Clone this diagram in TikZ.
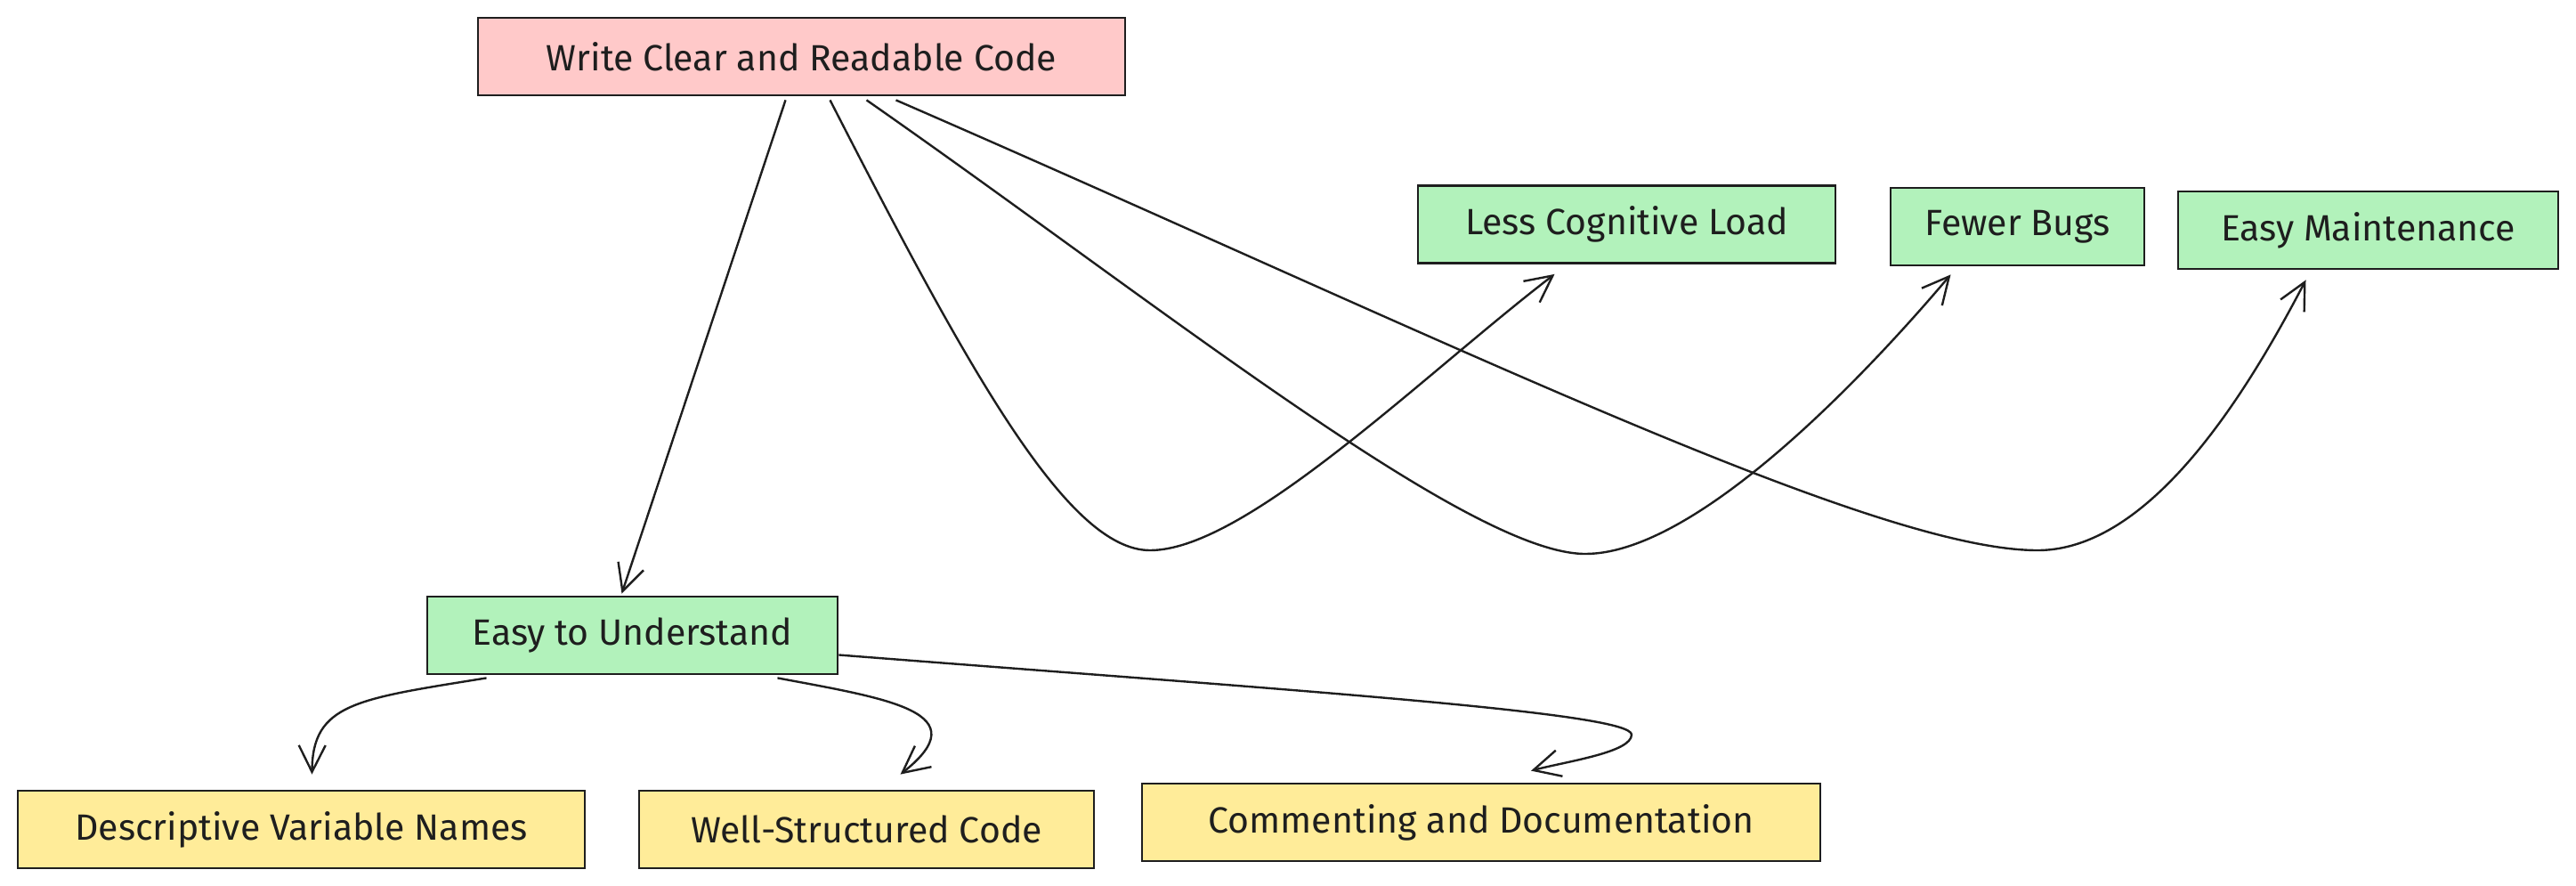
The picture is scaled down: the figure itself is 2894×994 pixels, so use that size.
\documentclass[tikz,border=0pt]{standalone}
\usepackage{fontspec}
\setmainfont{Fira Sans}
\usetikzlibrary{arrows.meta}
\definecolor{pinkfill}{HTML}{FFC9C9}
\definecolor{greenfill}{HTML}{B2F2BB}
\definecolor{yellowfill}{HTML}{FFEC99}
\definecolor{ink}{HTML}{1E1E1E}
\tikzset{
  box/.style={draw=ink, line width=2.8pt, rectangle, inner sep=0pt,
    minimum height=87pt, text=ink, font=\fontsize{41}{45}\selectfont},
  pinkbox/.style={box, fill=pinkfill},
  greenbox/.style={box, fill=greenfill},
  yellowbox/.style={box, fill=yellowfill},
  conn/.style={draw=ink, line width=2.4pt,
    -{Straight Barb[length=30pt,width=30pt,line width=2.4pt]}},
}
\begin{document}
\begin{tikzpicture}[x=1pt,y=1pt]
\useasboundingbox (0,0) rectangle (2894,-994);
% nodes
\node[pinkbox, minimum width=727pt] (w) at (900.5,-63.5) {Write Clear and Readable Code};
\node[greenbox, minimum width=469pt] (lcl) at (1827.5,-252) {Less Cognitive Load};
\node[greenbox, minimum width=285pt] (fb) at (2266.5,-254.5) {Fewer Bugs};
\node[greenbox, minimum width=427pt] (em) at (2660.5,-258.5) {Easy Maintenance};
\node[greenbox, minimum width=461pt] (etu) at (710.5,-713.5) {Easy to Understand};
\node[yellowbox, minimum width=637pt] (dvn) at (338.5,-931.5) {Descriptive Variable Names};
\node[yellowbox, minimum width=511pt] (wsc) at (973.5,-931.5) {Well-Structured Code};
\node[yellowbox, minimum width=762pt] (cd) at (1664,-923.5) {Commenting and Documentation};
% connector anchor points
\coordinate (s1) at ([xshift=-18pt,yshift=-4pt]w.south);
\coordinate (e1) at ([xshift=-12pt,yshift=2pt]etu.north);
\coordinate (s2) at ([xshift=32pt,yshift=-4pt]w.south);
\coordinate (m2) at (1292,-618);
\coordinate (e2) at ([xshift=-81pt,yshift=-11pt]lcl.south);
\coordinate (s3) at ([xshift=73pt,yshift=-4pt]w.south);
\coordinate (m3) at (1781,-622);
\coordinate (e3) at ([xshift=-75pt,yshift=-9pt]fb.south);
\coordinate (s4) at ([xshift=106pt,yshift=-4pt]w.south);
\coordinate (m4) at (2289,-618);
\coordinate (e4) at ([xshift=-70pt,yshift=-11pt]em.south);
\coordinate (s5) at ([xshift=-164pt,yshift=-3pt]etu.south);
\coordinate (e5) at ([xshift=12pt,yshift=17pt]dvn.north);
\coordinate (s6) at ([xshift=163pt,yshift=-3pt]etu.south);
\coordinate (e6) at ([xshift=38pt,yshift=17pt]wsc.north);
\coordinate (s7) at ([yshift=-22pt]etu.east);
\coordinate (r7) at (1833,-825);
\coordinate (e7) at ([xshift=56pt,yshift=13pt]cd.north);
% connectors
\draw[conn] (s1) -- (e1);
\draw[conn] (s2) .. controls (1090,-420) and (1200,-618) .. (m2)
  .. controls (1400,-618) and (1600,-420) .. (e2);
\draw[conn] (s3) .. controls (1300,-340) and (1650,-622) .. (m3)
  .. controls (1900,-622) and (2080,-440) .. (e3);
\draw[conn] (s4) .. controls (1600,-370) and (2100,-618) .. (m4)
  .. controls (2420,-618) and (2530,-430) .. (e4);
\draw[conn] (s5) .. controls (400,-785) and (351,-790) .. (e5);
\draw[conn] (s6) .. controls (1000,-785) and (1100,-800) .. (e6);
\draw[conn] (s7) .. controls (1450,-775) and (1833,-800) .. (r7)
  .. controls (1833,-845) and (1760,-855) .. (e7);
\end{tikzpicture}
\end{document}
